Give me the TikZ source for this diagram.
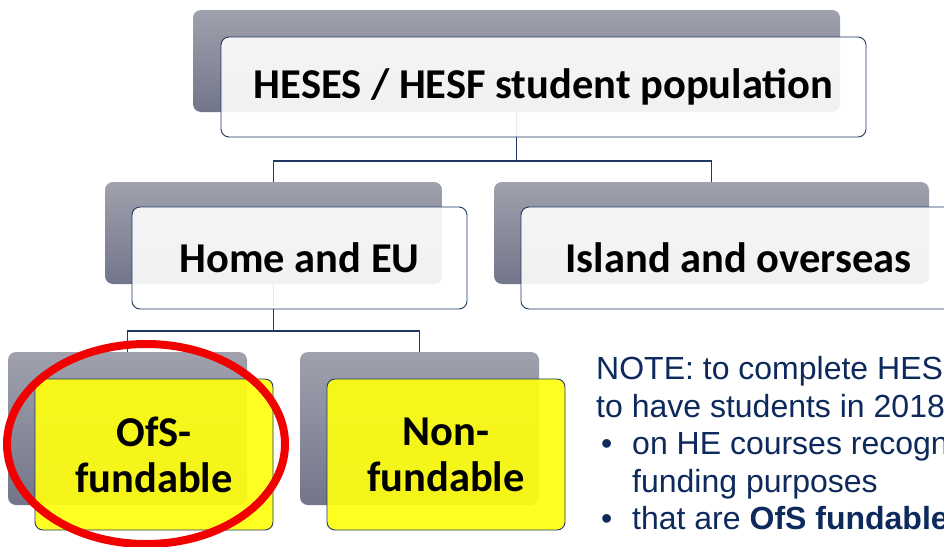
\documentclass[tikz,border=0pt]{standalone}
\usepackage{fontspec}
\usetikzlibrary{shapes.geometric}
\setmainfont{Carlito}
\newfontfamily\notefont{Liberation Sans}
\definecolor{navy}{HTML}{1F3864}
\definecolor{notecol}{HTML}{0E2A5C}
\definecolor{gtop}{HTML}{9FA1AD}
\definecolor{gbot}{HTML}{73768A}
\definecolor{hl}{HTML}{FFFF10}
\definecolor{redring}{HTML}{F20000}
\tikzset{
  graybox/.style={rectangle, rounded corners=8pt, inner sep=0pt, outer sep=0pt, top color=gtop, bottom color=gbot},
  whitebox/.style={rectangle, rounded corners=8pt, inner sep=0pt, outer sep=0pt, draw=navy, line width=0.9pt, fill=white, fill opacity=0.9, text opacity=1, font=\bfseries\fontsize{42.5}{46}\selectfont, align=center},
  yellowbox/.style={whitebox, fill=hl, fill opacity=0.92, font=\bfseries\fontsize{42.5}{46}\selectfont},
  conn/.style={draw=navy, line width=1.3pt},
  notetext/.style={anchor=base west, inner sep=0pt, text=notecol, font=\notefont\fontsize{32}{36}\selectfont},
}
\begin{document}
\begin{tikzpicture}[x=1pt,y=-1pt]
\useasboundingbox (0,0) rectangle (944,546);
\fill[white] (0,0) rectangle (944,546);
% junction coordinates
\coordinate (j1) at (516.5,161);
\coordinate (j2) at (273.5,331);
% gray back boxes
\node[graybox, minimum width=647pt, minimum height=102pt] (g1) at (516.5,61) {};
\node[graybox, minimum width=337pt, minimum height=102pt] (g2) at (273.5,233) {};
\node[graybox, minimum width=435pt, minimum height=102pt] (g3) at (711.5,233) {};
\node[graybox, minimum width=239pt, minimum height=153pt] (g4) at (127.5,428.5) {};
\node[graybox, minimum width=239pt, minimum height=153pt] (g5) at (419.5,428.5) {};
% connectors
\draw[conn] (g1.south) -- (j1) -| (g2.north);
\draw[conn] (j1) -| (g3.north);
\draw[conn] (g2.south) -- (j2) -| (g4.north);
\draw[conn] (j2) -| (g5.north);
% front boxes
\node[whitebox, minimum width=645pt, minimum height=100pt] (w1) at (543.5,87) {HESES / HESF student population};
\node[whitebox, minimum width=335pt, minimum height=102pt] (w2) at (299.5,258) {Home and EU};
\node[whitebox, minimum width=435pt, minimum height=102pt] (w3) at (738.5,258) {Island and overseas};
\node[yellowbox, minimum width=238pt, minimum height=151pt] (y1) at (154,454.5) {OfS-\\fundable};
\node[yellowbox, minimum width=238pt, minimum height=151pt] (y2) at (446,454.5) {Non-\\fundable};
% red ring
\node[draw=redring, line width=8pt, ellipse, minimum width=278pt, minimum height=200pt, inner sep=0pt] (ring) at (146,444) {};
% note text
\node[notetext] (n1) at (596,379) {NOTE: to complete HES};
\node[notetext] (n2) at (596,417) {to have students in 2018};
\node[notetext] (b1) at (601,454) {•};
\node[notetext] (n3) at (632,454) {on HE courses recogn};
\node[notetext] (n4) at (632,492) {funding purposes};
\node[notetext] (b2) at (601,529) {•};
\node[notetext] (n5) at (632,529) {that are \textbf{OfS fundable}};
\end{tikzpicture}
\end{document}
